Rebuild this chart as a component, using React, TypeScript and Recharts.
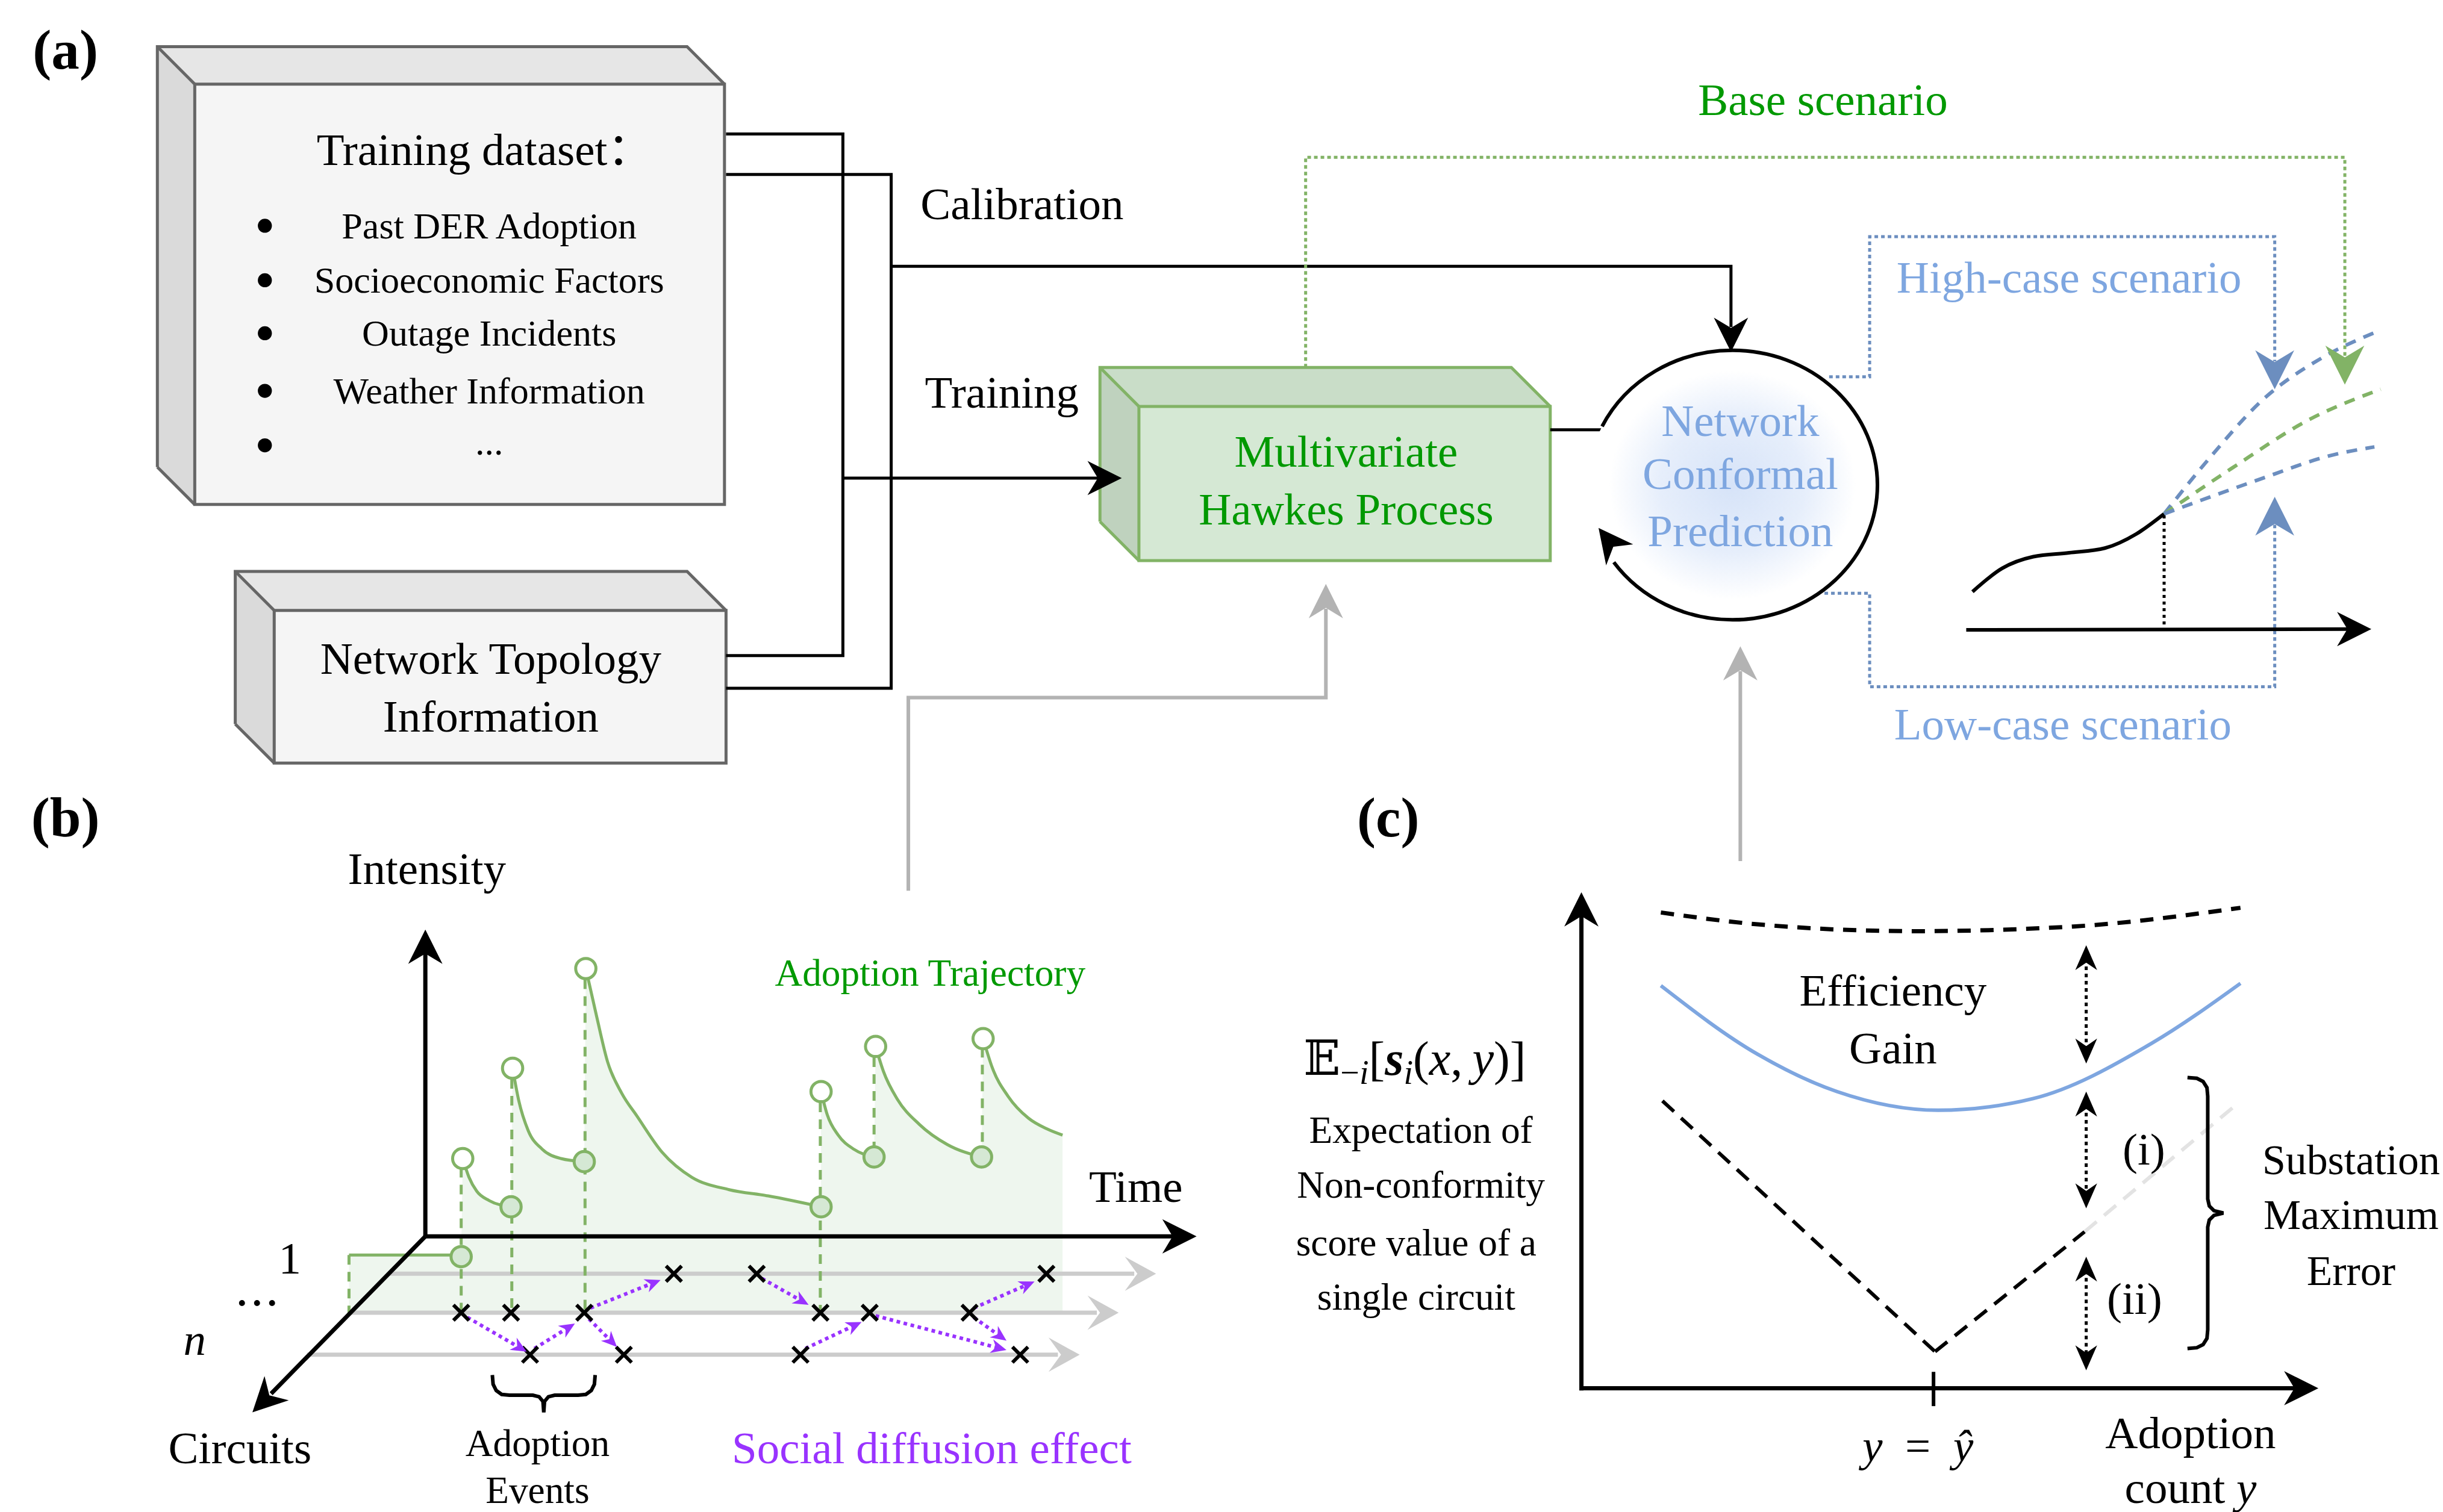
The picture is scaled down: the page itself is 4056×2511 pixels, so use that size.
import React from 'react';
import { ComposedChart, XAxis, YAxis, Line, Area, Scatter, ReferenceArea, ReferenceDot } from 'recharts';

const CW = 4056;
const CH = 2511;
const UX = 1568;
const UY = 971;
const K = CW / UX;
const SERIF = '"Liberation Serif", "Times New Roman", "DejaVu Serif", "Noto Sans CJK SC", serif';

type P = { x: number; y: number };
const pts = (arr: number[][]): P[] => arr.map(([x, y]) => ({ x, y }));

// ---------- Panel (a) ----------
const BOXES_GRAY = [
  { x1: 125, x2: 465, y1: 54, y2: 324, d: 24 },
  { x1: 176, x2: 466, y1: 392, y2: 490, d: 25 },
];
const BOX_GREEN = { x1: 731, x2: 995, y1: 261, y2: 360, d: 25 };

const BUS_TRAIN = pts([[466, 86], [541, 86], [541, 421], [466, 421]]);
const FEED_TRAIN = pts([[541, 307], [705, 307]]);
const BUS_CALIB = pts([[466, 112], [572, 112], [572, 442], [466, 442]]);
const FEED_CALIB = pts([[572, 171], [1111, 171], [1111, 210]]);
const HAWKES_LINK = pts([[995, 276], [1030, 276]]);
const ROUTE_BASE = pts([[838, 236], [838, 101], [1505, 101], [1505, 229]]);
const ROUTE_HIGH = pts([[1174, 242], [1200, 242], [1200, 152], [1460, 152], [1460, 232]]);
const ROUTE_LOW = pts([[1171, 381], [1200, 381], [1200, 441], [1460, 441], [1460, 337]]);
const ROUTE_GRAY_1 = pts([[583, 572], [583, 448], [851, 448], [851, 391]]);
const ROUTE_GRAY_2 = pts([[1117, 553], [1117, 431]]);
const BULLETS = pts([[170, 145], [170, 180], [170, 214], [170, 251], [170, 286]]);
const NCP = { x: 1112, y: 311.5, rx: 93, ry: 86.5, gapFrom: 146, gapTo: 205 };

const SCEN_AXIS = pts([[1262, 404.5], [1507, 404]]);
const SCEN_HIST = pts([[1266, 380], [1285, 365], [1305, 357.5], [1328, 355], [1351, 352], [1371, 343], [1389, 330]]);
const SCEN_DROP = pts([[1389, 331], [1389, 404]]);
const SCEN_HIGH = pts([[1389, 330], [1420, 292], [1452, 257], [1490, 230], [1528, 212]]);
const SCEN_BASE = pts([[1389, 330], [1432, 301], [1483, 269], [1528, 250]]);
const SCEN_LOW = pts([[1389, 330], [1447, 309], [1498, 292], [1524, 287]]);

// ---------- Panel (b) ----------
const AX_B_INT = pts([[273, 794], [273, 612]]);
const AX_B_TIME = pts([[273, 794], [753, 794]]);
const AX_B_CIRC = pts([[273, 794], [174, 895]]);
const LANES = [
  { y: 818, x1: 249, x2: 728 },
  { y: 843, x1: 224, x2: 704 },
  { y: 870, x1: 197, x2: 679 },
];
const HAWKES_SEGMENTS: P[][] = [
  pts([[224, 806], [296, 806]]),
  pts([[297, 744], [301, 756], [306, 765], [314, 771], [328, 775]]),
  pts([[329, 686], [333, 707], [339, 726], [348, 738], [360, 744], [375, 746]]),
  pts([[376, 622], [383, 653], [390, 682], [399, 702], [409, 717], [425, 740], [444, 756], [468, 764], [493, 768], [527, 775]]),
  pts([[527, 701], [531, 716], [538, 729], [548, 738], [561, 743]]),
  pts([[562, 672], [567, 688], [576, 706], [590, 722], [608, 735], [630, 743]]),
  pts([[631, 667], [637, 686], [647, 704], [660, 718], [672, 725], [682, 729]]),
];
const HAWKES_BASE = 843;
const HAWKES_DROPS = [
  [224, 806, 843], [296, 750, 843], [328.5, 693, 843], [375.5, 629, 843],
  [526.5, 708, 843], [561, 679, 741], [630.5, 673, 741],
];
const OPEN_PTS = pts([[297, 744], [329, 686], [376, 622], [527, 701], [562, 672], [631, 667]]);
const FILLED_PTS = pts([[296, 807], [328, 775], [375, 746], [527, 775], [561, 743], [630, 743]]);
const CROSSES = pts([
  [432.5, 818], [485.7, 818], [671.6, 818],
  [296, 843], [328, 843], [375, 843], [526.6, 843], [558.2, 843], [622.3, 843],
  [340.2, 870], [400.4, 870], [513.8, 870], [654.8, 870],
]);
const PURPLE = [
  [300, 846, 338, 868], [343, 866, 369, 850], [379, 840, 424, 822], [378, 847, 396, 865],
  [489, 821, 519, 838], [517, 866, 553, 849], [562, 845, 646, 867], [625, 846, 646, 861],
  [625, 840, 664, 823],
];
const BRACE_B = pts([
  [316, 883], [316.5, 889], [318.5, 893], [322, 895.5], [327, 896], [342, 896], [346, 897], [348.5, 900],
  [349, 907], [349.5, 900], [352, 897], [356, 896], [371, 896], [376, 895.5], [379.5, 893], [381.5, 889], [382, 883],
]);

// ---------- Panel (c) ----------
const AX_C_Y = pts([[1015, 893], [1015, 588]]);
const AX_C_X = pts([[1015, 891.5], [1473, 891.5]]);
const TICK_C = pts([[1241, 881], [1241, 903]]);
const UPPER_BOUND = pts([[1066, 586], [1128, 593.6], [1229, 598], [1330.5, 595], [1438, 583]]);
const BLUE_CURVE = pts([[1066, 633], [1128, 677], [1179, 701], [1244, 713], [1305, 705.5], [1381, 670], [1438, 631.5]]);
const V_LEFT = pts([[1067, 707], [1242, 868]]);
const V_RIGHT = pts([[1242, 868], [1338, 791]]);
const V_GHOST = pts([[1338, 791], [1437, 708]]);
const GAPS_X = 1339;
const GAPS = [[616, 674], [710, 767], [816, 871]];
const BRACE_C = pts([
  [1404, 692], [1410, 692.5], [1414, 694.5], [1416.5, 698.5], [1417, 704], [1417, 770], [1418, 774.5], [1421, 777.5],
  [1427, 779], [1421, 780.5], [1418, 783.5], [1417, 788], [1417, 854], [1416.5, 859.5], [1414, 863.5], [1410, 865.5], [1404, 866],
]);

// ---------- Arrow heads (tip position + direction in degrees) ----------
const ARROWS_BLACK = [
  { x: 720, y: 307, a: 0 }, { x: 1111, y: 226, a: 90 }, { x: 1026, y: 339, a: -128 }, { x: 1522, y: 404, a: 0 },
  { x: 273, y: 597, a: -90 }, { x: 768, y: 794, a: 0 }, { x: 162, y: 907, a: 135 },
  { x: 1015, y: 573, a: -90 }, { x: 1488, y: 891.5, a: 0 },
];
const ARROWS_SMALL = [
  { x: GAPS_X, y: 607, a: -90 }, { x: GAPS_X, y: 683, a: 90 },
  { x: GAPS_X, y: 701, a: -90 }, { x: GAPS_X, y: 776, a: 90 },
  { x: GAPS_X, y: 807, a: -90 }, { x: GAPS_X, y: 880, a: 90 },
];
const ARROWS_GRAY = [{ x: 851, y: 375, a: -90 }, { x: 1117, y: 415, a: -90 }];
const ARROWS_GREEN = [{ x: 1505, y: 247, a: 90 }];
const ARROWS_BLUE = [{ x: 1460, y: 250, a: 90 }, { x: 1460, y: 319, a: -90 }];
const ARROWS_LANE = [{ x: 742, y: 818, a: 0 }, { x: 718, y: 843, a: 0 }, { x: 693, y: 870, a: 0 }];

// ---------- Texts ----------
type Seg = { s: string; i?: boolean; b?: boolean; sub?: boolean };
type TextItem = { x: number; y: number; t: string | Seg[] };
const MATH: Seg[] = [
  { s: '𝔼' }, { s: '−', sub: true }, { s: 'i', i: true, sub: true }, { s: '[' }, { s: 's', i: true, b: true },
  { s: 'i', i: true, sub: true }, { s: '(' }, { s: 'x', i: true }, { s: ',\u2009' }, { s: 'y', i: true }, { s: ')]' },
];
const TXT_PANEL: TextItem[] = [{ x: 42, y: 32, t: '(a)' }, { x: 42, y: 525, t: '(b)' }, { x: 891, y: 525, t: '(c)' }];
const TXT_MAIN: TextItem[] = [
  { x: 311, y: 96, t: 'Training dataset：' },
  { x: 315, y: 423, t: 'Network Topology' },
  { x: 315, y: 460, t: 'Information' },
  { x: 656, y: 131, t: 'Calibration' },
  { x: 643, y: 252, t: 'Training' },
  { x: 274, y: 558, t: 'Intensity' },
  { x: 729, y: 762, t: 'Time' },
  { x: 186, y: 808, t: '1' },
  { x: 154, y: 930, t: 'Circuits' },
  { x: 1215, y: 636, t: 'Efficiency' },
  { x: 1215, y: 673, t: 'Gain' },
  { x: 1376, y: 738, t: '(i)' },
  { x: 1370, y: 834, t: '(ii)' },
  { x: 1406, y: 920, t: 'Adoption' },
  { x: 1406, y: 955, t: [{ s: 'count ' }, { s: 'y', i: true }] },
  { x: 1231, y: 928, t: [{ s: 'y', i: true }, { s: '\u2002=\u2002' }, { s: 'ŷ', i: true }] },
  { x: 125, y: 860, t: [{ s: 'n', i: true }] },
  { x: 165, y: 838, t: '⋯' },
];
const TXT_SIDE: TextItem[] = [
  { x: 1509, y: 745, t: 'Substation' },
  { x: 1509, y: 780, t: 'Maximum' },
  { x: 1509, y: 816, t: 'Error' },
];
const TXT_MATH: TextItem[] = [{ x: 908, y: 680, t: MATH }];
const TXT_ITEMS: TextItem[] = [
  { x: 314, y: 145, t: 'Past DER Adoption' },
  { x: 314, y: 180, t: 'Socioeconomic Factors' },
  { x: 314, y: 214, t: 'Outage Incidents' },
  { x: 314, y: 251, t: 'Weather Information' },
  { x: 314, y: 284, t: '...' },
];
const TXT_SMALL: TextItem[] = [
  { x: 345, y: 927, t: 'Adoption' },
  { x: 345, y: 957, t: 'Events' },
  { x: 912, y: 726, t: 'Expectation of' },
  { x: 912, y: 761, t: 'Non-conformity' },
  { x: 909, y: 798, t: 'score value of a' },
  { x: 909, y: 833, t: 'single circuit' },
];
const TXT_GREEN: TextItem[] = [
  { x: 864, y: 290, t: 'Multivariate' },
  { x: 864, y: 327, t: 'Hawkes Process' },
  { x: 1170, y: 64, t: 'Base scenario' },
];
const TXT_GREEN_SMALL: TextItem[] = [{ x: 597, y: 625, t: 'Adoption Trajectory' }];
const TXT_BLUE: TextItem[] = [
  { x: 1117, y: 270, t: 'Network' },
  { x: 1117, y: 304, t: 'Conformal' },
  { x: 1117, y: 341, t: 'Prediction' },
  { x: 1328, y: 178, t: 'High-case scenario' },
  { x: 1324, y: 465, t: 'Low-case scenario' },
];
const TXT_PURPLE: TextItem[] = [{ x: 598, y: 930, t: 'Social diffusion effect' }];

// ---------- Styles ----------
const C_GRAY_STROKE = '#666666';
const C_GREEN = '#82b366';
const C_BLUE = '#6c8ebf';
const C_PURPLE = '#9933ff';
const C_CONN = '#b3b3b3';

const renderRich = (segs: Seg[], size: number) => {
  let off = 0;
  return segs.map((sg, i) => {
    const target = sg.sub ? size * 0.28 : 0;
    const dy = target - off;
    off = target;
    return (
      <tspan key={i} dy={dy} fontStyle={sg.i ? 'italic' : undefined} fontWeight={sg.b ? 'bold' : undefined}
        fontSize={sg.sub ? size * 0.7 : undefined}>{sg.s}</tspan>
    );
  });
};

const textShape = (size: number, color: string, weight?: string) => (p: any) => {
  const t = p.payload.t;
  const fs = size * K;
  return (
    <text x={p.cx} y={p.cy} textAnchor="middle" dominantBaseline="central" fontFamily={SERIF}
      fontSize={fs} fill={color} fontWeight={weight}>
      {typeof t === 'string' ? t : renderRich(t, fs)}
    </text>
  );
};

const arrowShape = (L: number, Wd: number, color: string, notch = 0.7) => (p: any) => {
  const l = L * K;
  const w = (Wd * K) / 2;
  return (
    <polygon points={`0,0 ${-l},${-w} ${-l * notch},0 ${-l},${w}`}
      transform={`translate(${p.cx},${p.cy}) rotate(${p.payload.a})`} fill={color} />
  );
};

const circleShape = (r: number, fill: string, stroke: string, sw: number) => (p: any) => (
  <circle cx={p.cx} cy={p.cy} r={r * K} fill={fill} stroke={stroke} strokeWidth={sw} />
);

const crossShape = (p: any) => {
  const h = 5 * K;
  return (
    <g stroke="#000" strokeWidth={6}>
      <line x1={p.cx - h} y1={p.cy - h} x2={p.cx + h} y2={p.cy + h} />
      <line x1={p.cx - h} y1={p.cy + h} x2={p.cx + h} y2={p.cy - h} />
    </g>
  );
};

const ellipseFill = (p: any) => (
  <ellipse cx={p.cx} cy={p.cy} rx={NCP.rx * K} ry={NCP.ry * K} fill="url(#ncpGrad)" stroke="none" />
);
const ellipseRing = (p: any) => (
  <ellipse cx={p.cx} cy={p.cy} rx={NCP.rx * K} ry={NCP.ry * K} fill="none" stroke="#000" strokeWidth={6}
    pathLength={360} strokeDasharray={`${NCP.gapFrom} ${NCP.gapTo - NCP.gapFrom} ${360 - NCP.gapTo}`} />
);

let keyN = 0;
const ln = (data: P[], stroke: string, width: number, dash?: string, type: any = 'linear') => (
  <Line key={`l${keyN++}`} data={data} dataKey="y" type={type} stroke={stroke} strokeWidth={width}
    strokeDasharray={dash} dot={false} activeDot={false} isAnimationActive={false} legendType="none" />
);
const ar = (data: { x: number; r: number[] }[], fill: string, opacity = 1) => (
  <Area key={`a${keyN++}`} data={data} dataKey="r" type="linear" stroke="none" fill={fill} fillOpacity={opacity}
    dot={false} activeDot={false} isAnimationActive={false} legendType="none" />
);
const sc = (data: any[], shape: any) => (
  <Scatter key={`s${keyN++}`} data={data} shape={shape} isAnimationActive={false} legendType="none" />
);

const cube = (b: { x1: number; x2: number; y1: number; y2: number; d: number }, front: string, top: string, left: string, stroke: string) => {
  const { x1, x2, y1, y2, d } = b;
  return [
    ar([{ x: x1 - d, r: [y1 - d, y1 - d] }, { x: x1, r: [y1 - d, y1] }, { x: x2 - d, r: [y1 - d, y1] }, { x: x2, r: [y1, y1] }], top),
    ar([{ x: x1 - d, r: [y1 - d, y2 - d] }, { x: x1, r: [y1, y2] }], left),
    <ReferenceArea key={`r${keyN++}`} x1={x1} x2={x2} y1={y1} y2={y2} fill={front} fillOpacity={1} stroke={stroke} strokeWidth={5} ifOverflow="visible" />,
    ln(pts([[x1 - d, y2 - d], [x1 - d, y1 - d], [x2 - d, y1 - d], [x2, y1]]), stroke, 5),
    ln(pts([[x1 - d, y1 - d], [x1, y1]]), stroke, 5),
    ln(pts([[x1 - d, y2 - d], [x1, y2]]), stroke, 5),
  ];
};

export default function App() {
  keyN = 0;
  const hawkesArea = HAWKES_SEGMENTS.flat().map((p) => ({ x: p.x, r: [HAWKES_BASE, p.y] }));

  const purpleLines = PURPLE.map(([x1, y1, x2, y2]) => {
    const dx = x2 - x1, dy = y2 - y1, len = Math.hypot(dx, dy);
    return ln(pts([[x1, y1], [x2 - (dx / len) * 5, y2 - (dy / len) * 5]]), C_PURPLE, 6, '6 6');
  });
  const purpleHeads = PURPLE.map(([x1, y1, x2, y2]) => ({ x: x2, y: y2, a: (Math.atan2(y2 - y1, x2 - x1) * 180) / Math.PI }));

  const children: React.ReactNode[] = [
    // fills
    ...cube(BOXES_GRAY[0], '#f5f5f5', '#e6e6e6', '#dadada', C_GRAY_STROKE),
    ...cube(BOXES_GRAY[1], '#f5f5f5', '#e6e6e6', '#dadada', C_GRAY_STROKE),
    ...cube(BOX_GREEN, '#d5e8d4', '#c9ddc8', '#bfd2be', C_GREEN),
    ar(hawkesArea, '#d5e8d4', 0.4),
    // panel (a) connectors
    ln(BUS_TRAIN, '#000', 5),
    ln(FEED_TRAIN, '#000', 5),
    ln(BUS_CALIB, '#000', 5),
    ln(FEED_CALIB, '#000', 5),
    ln(HAWKES_LINK, '#000', 5),
    ln(ROUTE_BASE, C_GREEN, 5, '6 5'),
    ln(ROUTE_HIGH, C_BLUE, 5, '6 5'),
    ln(ROUTE_LOW, C_BLUE, 5, '6 5'),
    ln(ROUTE_GRAY_1, C_CONN, 6),
    ln(ROUTE_GRAY_2, C_CONN, 6),
    <ReferenceDot key="ncpFill" x={NCP.x} y={NCP.y} r={NCP.rx * K} shape={ellipseFill} ifOverflow="visible" />,
    <ReferenceDot key="ncpRing" x={NCP.x} y={NCP.y} r={NCP.rx * K} shape={ellipseRing} ifOverflow="visible" />,
    // scenario inset
    ln(SCEN_AXIS, '#000', 6),
    ln(SCEN_DROP, '#000', 5, '5 6'),
    ln(SCEN_HIST, '#000', 6, undefined, 'monotone'),
    ln(SCEN_HIGH, C_BLUE, 6, '18 14', 'monotone'),
    ln(SCEN_BASE, C_GREEN, 6, '18 14', 'monotone'),
    ln(SCEN_LOW, C_BLUE, 6, '18 14', 'monotone'),
    // panel (b)
    ...LANES.map((l) => ln(pts([[l.x1, l.y], [l.x2, l.y]]), '#cccccc', 7)),
    ...HAWKES_DROPS.map(([x, y1, y2]) => ln(pts([[x, y1], [x, y2]]), C_GREEN, 5, '16 12')),
    ...HAWKES_SEGMENTS.map((s, i) => ln(s, C_GREEN, 5, undefined, i === 0 ? 'linear' : 'monotone')),
    ln(AX_B_INT, '#000', 7),
    ln(AX_B_TIME, '#000', 7),
    ln(AX_B_CIRC, '#000', 7),
    ln(BRACE_B, '#000', 6),
    ...purpleLines,
    // panel (c)
    ln(AX_C_Y, '#000', 7),
    ln(AX_C_X, '#000', 7),
    ln(TICK_C, '#000', 6),
    ln(UPPER_BOUND, '#000', 7, '22 16', 'monotone'),
    ln(BLUE_CURVE, '#7ea6e0', 6, undefined, 'monotone'),
    ln(V_LEFT, '#000', 6, '26 16'),
    ln(V_RIGHT, '#000', 6, '26 16'),
    ln(V_GHOST, '#e3e3e3', 6, '26 16'),
    ...GAPS.map(([a, b]) => ln(pts([[GAPS_X, a], [GAPS_X, b]]), '#000', 5, '6 6')),
    ln(BRACE_C, '#000', 6),
    // markers
    sc(BULLETS, circleShape(4.5, '#000', 'none', 0)),
    sc(FILLED_PTS, circleShape(6.5, '#d5e8d4', C_GREEN, 5)),
    sc(OPEN_PTS, circleShape(6.5, '#ffffff', C_GREEN, 5)),
    sc(CROSSES, crossShape),
    sc(ARROWS_BLACK, arrowShape(22, 22, '#000')),
    sc(ARROWS_SMALL, arrowShape(16, 14, '#000')),
    sc(ARROWS_GRAY, arrowShape(22, 22, C_CONN)),
    sc(ARROWS_GREEN, arrowShape(25, 25, C_GREEN)),
    sc(ARROWS_BLUE, arrowShape(25, 25, C_BLUE)),
    sc(ARROWS_LANE, arrowShape(20, 22, '#cccccc', 0.6)),
    sc(purpleHeads, arrowShape(10, 9, C_PURPLE)),
    // texts
    sc(TXT_PANEL, textShape(36, '#000', 'bold')),
    sc(TXT_MAIN, textShape(29, '#000')),
    sc(TXT_SIDE, textShape(27, '#000')),
    sc(TXT_MATH, textShape(31, '#000')),
    sc(TXT_ITEMS, textShape(24, '#000')),
    sc(TXT_SMALL, textShape(24.5, '#000')),
    sc(TXT_GREEN, textShape(29, '#009900')),
    sc(TXT_GREEN_SMALL, textShape(24.5, '#009900')),
    sc(TXT_BLUE, textShape(29, '#7ea6e0')),
    sc(TXT_PURPLE, textShape(29, '#9933ff')),
  ];

  return (
    <div style={{ position: 'absolute', left: 0, top: 0, width: CW, height: CH, background: '#ffffff' }}>
      <ComposedChart width={CW} height={CH} margin={{ top: 0, right: 0, bottom: 0, left: 0 }}>
        <defs>
          <radialGradient id="ncpGrad" cx="50%" cy="50%" r="50%">
            <stop offset="0%" stopColor="#d6e3f8" />
            <stop offset="50%" stopColor="#e6eefb" />
            <stop offset="85%" stopColor="#ffffff" />
          </radialGradient>
        </defs>
        <XAxis dataKey="x" type="number" domain={[0, UX]} allowDataOverflow hide />
        <YAxis dataKey="y" type="number" domain={[0, UY]} reversed allowDataOverflow hide />
        {children}
      </ComposedChart>
    </div>
  );
}
